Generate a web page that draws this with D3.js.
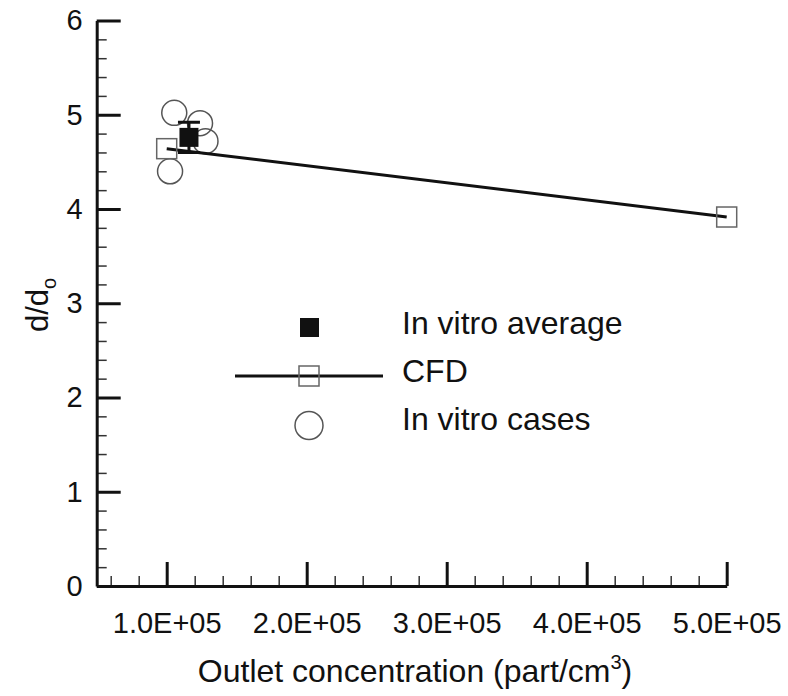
<!DOCTYPE html>
<html>
<head>
<meta charset="utf-8">
<script src="https://cdn.jsdelivr.net/npm/d3@7"></script>
<style>
  body { margin: 0; background: #fff; }
  svg text { font-family: "Liberation Sans", Arial, sans-serif; fill: #111; }
</style>
</head>
<body>
<svg id="chart" width="788" height="696"></svg>
<script>
// values
const cfdX = [1.0e5, 5.0e5];
const cfdY = [4.64, 3.915];

const casesX = [1.054e5, 1.238e5, 1.277e5, 1.024e5];
const casesY = [5.02, 4.91, 4.72, 4.40];

const avgX = [1.159e5];
const avgY = [4.76];
const avgErr = [0.16];

const xMajor = [1e5, 2e5, 3e5, 4e5, 5e5];
const yMajor = [0, 1, 2, 3, 4, 5, 6];

const svg = d3.select("#chart");

const x = d3.scaleLinear().domain([0.5e5, 5e5]).range([96.7, 726.7]);
const y = d3.scaleLinear().domain([0, 6]).range([586, 20.5]);

// minor ticks every 0.2 units / 0.2E+05
const xMinor = d3.range(0.6e5, 5e5 + 1, 0.2e5).filter(v => xMajor.indexOf(Math.round(v)) < 0);
const yMinor = d3.range(0.2, 6, 0.2).filter(v => Math.abs(v - Math.round(v)) > 0.01);

const fmtX = d => (d / 1e5).toFixed(1) + "E+05";

// x axis
svg.append("g")
  .attr("transform", `translate(0,${y(0)})`)
  .call(d3.axisBottom(x).tickValues(xMinor).tickSize(-10).tickSizeOuter(0).tickFormat(""))
  .call(g => g.select(".domain").remove())
  .call(g => g.selectAll("line").attr("stroke", "#333").attr("stroke-width", 1.5));

const xg = svg.append("g")
  .attr("transform", `translate(0,${y(0)})`)
  .call(d3.axisBottom(x).tickValues(xMajor).tickSize(-24).tickSizeOuter(0).tickPadding(26).tickFormat(fmtX));
xg.select(".domain").attr("stroke", "#111").attr("stroke-width", 3);
xg.selectAll("line").attr("stroke", "#111").attr("stroke-width", 3);
xg.selectAll("text").attr("font-size", 29).attr("fill", "#111");

// y axis
svg.append("g")
  .attr("transform", `translate(${x(0.5e5)},0)`)
  .call(d3.axisLeft(y).tickValues(yMinor).tickSize(-10).tickSizeOuter(0).tickFormat(""))
  .call(g => g.select(".domain").remove())
  .call(g => g.selectAll("line").attr("stroke", "#333").attr("stroke-width", 1.5));

const yg = svg.append("g")
  .attr("transform", `translate(${x(0.5e5)},0)`)
  .call(d3.axisLeft(y).tickValues(yMajor).tickSize(-24).tickSizeOuter(0).tickPadding(14).tickFormat(d3.format("d")));
yg.select(".domain").attr("stroke", "#111").attr("stroke-width", 3);
yg.selectAll("line").attr("stroke", "#111").attr("stroke-width", 3);
yg.selectAll("text").attr("font-size", 29).attr("fill", "#111");

// axis titles
svg.append("text")
  .attr("x", 415).attr("y", 682)
  .attr("text-anchor", "middle")
  .attr("font-size", 32)
  .html('Outlet concentration (part/cm<tspan dy="-13" font-size="20">3</tspan><tspan dy="13">)</tspan>');

svg.append("text")
  .attr("transform", "translate(48,305) rotate(-90)")
  .attr("text-anchor", "middle")
  .attr("font-size", 31)
  .html('d/d<tspan dy="8" font-size="20">o</tspan>');

// in vitro cases
svg.append("g").selectAll("circle")
  .data(casesX.map((v, i) => [v, casesY[i]]))
  .join("circle")
  .attr("cx", d => x(d[0]))
  .attr("cy", d => y(d[1]))
  .attr("r", 12.5)
  .attr("fill", "none")
  .attr("stroke", "#555")
  .attr("stroke-width", 1.5);

// CFD line
const cfd = cfdX.map((v, i) => [v, cfdY[i]]);
svg.append("path")
  .datum(cfd)
  .attr("d", d3.line().x(d => x(d[0])).y(d => y(d[1])))
  .attr("fill", "none")
  .attr("stroke", "#111")
  .attr("stroke-width", 3);

svg.append("g").selectAll("rect")
  .data(cfd)
  .join("rect")
  .attr("x", d => x(d[0]) - 10)
  .attr("y", d => y(d[1]) - 10)
  .attr("width", 20).attr("height", 20)
  .attr("fill", "none")
  .attr("stroke", "#666")
  .attr("stroke-width", 1.5);

// in vitro average with error bar
const avg = avgX.map((v, i) => ({ x: v, y: avgY[i], e: avgErr[i] }));
const ag = svg.append("g");
ag.selectAll(".err")
  .data(avg)
  .join("path")
  .attr("d", d => {
    const cx = x(d.x), y1 = y(d.y + d.e), y2 = y(d.y - d.e);
    return `M${cx - 11},${y1}H${cx + 11}M${cx},${y1}V${y2}M${cx - 11},${y2}H${cx + 11}`;
  })
  .attr("fill", "none")
  .attr("stroke", "#111")
  .attr("stroke-width", 3);
ag.selectAll("rect")
  .data(avg)
  .join("rect")
  .attr("x", d => x(d.x) - 9.5)
  .attr("y", d => y(d.y) - 9.5)
  .attr("width", 19).attr("height", 19)
  .attr("fill", "#111");

// legend
const lg = svg.append("g");
lg.append("rect").attr("x", 300).attr("y", 318).attr("width", 19).attr("height", 19).attr("fill", "#111");
lg.append("text").attr("x", 402).attr("y", 334).attr("font-size", 32).text("In vitro average");

lg.append("line").attr("x1", 235).attr("x2", 383).attr("y1", 376).attr("y2", 376)
  .attr("stroke", "#111").attr("stroke-width", 3);
lg.append("rect").attr("x", 299).attr("y", 366).attr("width", 20).attr("height", 20)
  .attr("fill", "none").attr("stroke", "#666").attr("stroke-width", 1.5);
lg.append("text").attr("x", 402).attr("y", 382).attr("font-size", 32).text("CFD");

lg.append("circle").attr("cx", 309).attr("cy", 425.5).attr("r", 14)
  .attr("fill", "none").attr("stroke", "#555").attr("stroke-width", 1.5);
lg.append("text").attr("x", 402).attr("y", 430).attr("font-size", 32).text("In vitro cases");
</script>
</body>
</html>
